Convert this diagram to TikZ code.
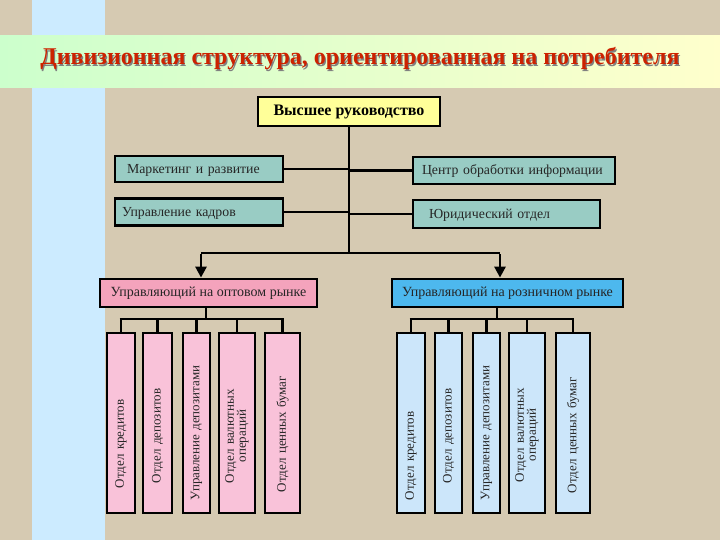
\documentclass[tikz,border=0pt]{standalone}
\usepackage{fontspec}
\setmainfont{Liberation Serif}
\usetikzlibrary{arrows.meta}
\definecolor{bgc}{HTML}{D6CAB2}
\definecolor{stripe}{HTML}{CCEBFF}
\definecolor{bandl}{HTML}{CCFFCC}
\definecolor{bandr}{HTML}{FFFFCC}
\definecolor{titlec}{HTML}{CC2200}
\definecolor{topc}{HTML}{FFFF99}
\definecolor{tealc}{HTML}{99CCC4}
\definecolor{pinkm}{HTML}{F4A3BC}
\definecolor{pinkv}{HTML}{F9C2D9}
\definecolor{bluem}{HTML}{4DB8EE}
\definecolor{bluev}{HTML}{CCE6FA}
\begin{document}
\begin{tikzpicture}[x=1pt,y=-1pt,
  box/.style={draw=black, line width=2.8pt, inner ysep=0pt, font=\fontsize{13}{14}\selectfont, text=black!85},
  lbox/.style n args={3}{box, fill=tealc, inner xsep=#1, text width=#2, minimum height=#3, align=left, text height=9pt, text depth=0pt, font=\fontsize{13.8}{14}\selectfont},
  mbox/.style n args={2}{box, minimum width=#1, minimum height=28pt, inner xsep=0pt, fill=#2, font=\fontsize{14}{15}\selectfont},
  vb/.style n args={4}{box, rotate=90, inner xsep=#1, text width=#2, minimum height=#3, fill=#4, align=left},
  conn/.style={draw=black, line width=2.8pt},
  arr/.style={conn, -{Triangle[width=11pt,length=11pt]}}
]
\useasboundingbox (0,0) rectangle (720,540);
\fill[bgc] (0,0) rectangle (720,540);
\fill[stripe] (32,0) rectangle (105,540);
\shade[left color=bandl, right color=bandr] (0,36) rectangle (720,88);

\node[font=\fontsize{24}{26}\selectfont\bfseries, text=black!50] (tshadow) at (361.2,60.2) {Дивизионная структура, ориентированная на потребителя};
\node[font=\fontsize{24}{26}\selectfont\bfseries, text=titlec] (title) at (360,59) {Дивизионная структура, ориентированная на потребителя};

% top
\node[box, fill=topc, minimum width=182pt, minimum height=29pt, font=\fontsize{16}{17}\selectfont\bfseries, text=black] (top) at (349,111.5) {Высшее руководство};

% staff boxes
\node[lbox={12pt}{144pt}{26pt}] (mkt) at (199,169) {Маркетинг и развитие};
\node[lbox={7pt}{154pt}{27pt}] (kadr) at (199,212) {Управление кадров};
\node[lbox={9pt}{184pt}{27pt}] (info) at (514,170.5) {Центр обработки информации};
\node[lbox={16pt}{155pt}{28pt}] (legal) at (506.5,214) {Юридический отдел};

% managers
\node[mbox={217pt}{pinkm}] (lm) at (208.5,293) {Управляющий на оптовом рынке};
\node[mbox={231pt}{bluem}] (rm) at (507.5,293) {Управляющий на розничном рынке};

% vertical boxes left
\node[vb={25pt}{130pt}{28pt}{pinkv}] (l1) at (121,423) {Отдел кредитов};
\node[vb={30pt}{120pt}{29pt}{pinkv}] (l2) at (157.5,423) {Отдел депозитов};
\node[vb={13pt}{154pt}{27pt}{pinkv}] (l3) at (196.5,423) {Управление депозитами};
\node[vb={30pt}{120pt}{36pt}{pinkv}] (l4) at (237,423) {\begin{tabular}{@{}c@{}}Отдел валютных\\[-2pt]операций\end{tabular}};
\node[vb={21pt}{138pt}{35pt}{pinkv}] (l5) at (282.5,423) {Отдел ценных бумаг};

% vertical boxes right
\node[vb={13pt}{154pt}{28pt}{bluev}] (r1) at (411,423) {Отдел кредитов};
\node[vb={30pt}{120pt}{27pt}{bluev}] (r2) at (448.5,423) {Отдел депозитов};
\node[vb={13pt}{154pt}{27pt}{bluev}] (r3) at (486.5,423) {Управление депозитами};
\node[vb={31pt}{118pt}{36pt}{bluev}] (r4) at (527,423) {\begin{tabular}{@{}c@{}}Отдел валютных\\[-2pt]операций\end{tabular}};
\node[vb={20pt}{140pt}{34pt}{bluev}] (r5) at (573,423) {Отдел ценных бумаг};

% spine
\coordinate (sp) at (349,253);
\coordinate (jl) at (201,253);
\coordinate (jr) at (500,253);
\draw[conn] (top.south) -- (sp);
\draw[conn] (jl) -- (jr);
\draw[conn] (mkt.east) -- (mkt.east -| top.south);
\draw[conn] (kadr.east) -- (kadr.east -| top.south);
\draw[conn] (info.west -| top.south) -- (info.west);
\draw[conn] (legal.west -| top.south) -- (legal.west);
\draw[arr] ([yshift=-1.4pt]jl) -- (jl |- lm.north);
\draw[arr] ([yshift=-1.4pt]jr) -- (jr |- rm.north);

% brackets
\coordinate (lj) at (206,319);
\coordinate (rj) at (497,319);
\draw[conn] (lj |- lm.south) -- (lj);
\draw[conn] (rj |- rm.south) -- (rj);
\draw[conn] ([xshift=-1.4pt]l1.east |- lj) -- ([xshift=1.4pt]l5.east |- lj);
\draw[conn] ([xshift=-1.4pt]r1.east |- rj) -- ([xshift=1.4pt]r5.east |- rj);
\foreach \b in {l1,l2,l3,l4,l5} \draw[conn] (\b.east |- lj) -- (\b.east);
\foreach \b in {r1,r2,r3,r4,r5} \draw[conn] (\b.east |- rj) -- (\b.east);
\end{tikzpicture}
\end{document}
